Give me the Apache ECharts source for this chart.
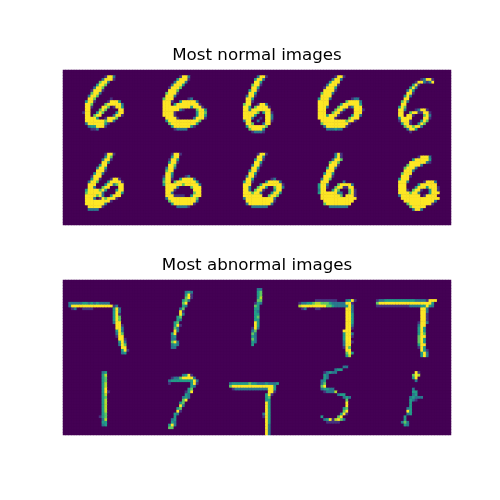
<!DOCTYPE html>
<html>
<head>
<meta charset="utf-8">
<script src="https://cdn.jsdelivr.net/npm/echarts@6/dist/echarts.min.js"></script>
<style>
  html, body { margin: 0; padding: 0; background: #ffffff; }
  #chart { width: 500px; height: 500px; }
</style>
</head>
<body>
<div id="chart"></div>
<script>
"use strict";

// panel titles
var panelTitles = ['Most normal images', 'Most abnormal images'];

// pixel intensity per character ('.' is background)
var levelValues = { '.': 0, 'a': 0.15, 'b': 0.4, 'c': 0.55, 'd': 0.75, 'e': 0.88, '#': 1 };

// viridis colour ramp
var viridis = ['#440154', '#482475', '#414487', '#355f8d', '#2a788e', '#21918c',
               '#22a884', '#44bf70', '#7ad151', '#bddf26', '#fde725'];

// 28x28 bitmaps, two rows of five images per panel
var normalImages = [
  ["", "",
   "...............a##b",
   "..............b###a",
   ".............d##b",
   "............c##d",
   "...........b##d",
   "..........a###a",
   "..........d##b",
   ".........b##d",
   ".........##d.....a",
   "........c##a....a###c",
   "........##d....d#####b",
   "........##a...##d.a##c",
   "........##...d#d....##",
   ".......a##..c#d....c##",
   "........##.d##....b##a",
   "........####c..a###d",
   "........#######d##b",
   "........b######ca",
   ".........bcc###a",
   "..........aab"],
  ["", "",
   "..............a##b",
   ".............c###a",
   "............b###b",
   "...........b###c",
   "..........a###d",
   "..........###d",
   ".........d###a",
   ".........###b",
   "........d###.....ab",
   "........###a..c#####b",
   "........###.c########a",
   "........##########c###a",
   "........######ba....d##c",
   "........####a.......c##d",
   "........####a.......c##c",
   ".........####a.....b###a",
   ".........c###########d",
   "..........d#########c",
   "...........c######ca",
   "............abbbb"],
  ["", "",
   "..............b##a",
   ".............c##b",
   ".............##c",
   "............d##a",
   "............##c",
   "...........c##a",
   "...........##c",
   "..........b##a",
   "..........##c",
   "..........##a",
   ".........d##..a##b",
   ".........##c.d####a",
   ".........##b#######",
   ".........#####d.c##a",
   ".........####c...##b",
   ".........###b..a.##b",
   ".........b##..b..##a",
   "..........##d...b##",
   "..........c######d",
   "...........d####c",
   "............abbba"],
  ["", "",
   "..............a##a",
   ".............b##b",
   "............c###",
   "...........b###a",
   "..........a###c",
   "..........####a",
   ".........d###b",
   ".........####",
   "........c###b.......abb",
   "........####......d####b",
   "........####....c######c",
   "........###b...d###ab###",
   "........###...d##b...###a",
   "........###..d##a....###",
   "........###c###a....c##b",
   "........######a....d###",
   ".........#########d##a",
   ".........d#########a",
   "..........b#######a",
   "...........bbbcbb"],
  ["", "", "",
   ".................ab##a",
   "...............a##bab#",
   "..............c#a",
   ".............c#b",
   "............b#c",
   "............##a",
   "...........c#b",
   "...........##",
   "..........d#b",
   "..........##",
   ".........c#d",
   ".........##b...ab##a",
   ".........##..d##aa##a",
   ".........##.##a...d#b",
   ".........c####....##a",
   ".........a###a...c#d",
   "..........c##a..c#d",
   "...........d##d##b",
   "............b##c",
   ".............a"],
  ["", "",
   "...............a##a",
   "...............c#d",
   "..............b##a",
   "..............##c",
   ".............c##",
   "............b##c",
   "............###a",
   "...........c##b",
   "..........a###",
   "..........c##a...a##a",
   ".........b##d...c####a",
   ".........###...c##bd##",
   ".........##b..d##...##",
   "........c####d#c...c##",
   "........d#####b....##c",
   "........####d#b..c###",
   "........###b.a#d###a",
   "........#########a",
   "........#######b",
   ".........#####a",
   ".........bbbb"],
  ["", "",
   "...........a##a",
   "...........c##",
   "..........a##c",
   "..........c##a",
   "..........##d",
   ".........b##b",
   ".........d##",
   ".........##c",
   "........a##b....ab",
   "........c##a..c####b",
   "........d##.d#######c",
   "........c######d#####b",
   ".........####b....d###",
   ".........###a......###",
   ".........##b.......d##",
   ".........###aaaa..c###",
   ".........b##########d",
   "..........d#########b",
   "...........c#######a",
   ".............bbbba"],
  ["", "",
   "..............a##a",
   "..............##b",
   ".............c##a",
   ".............##c",
   "............b##a",
   "............##c",
   "...........c##a",
   "...........##c",
   "..........b##a",
   "..........##c......ab",
   ".........c##a....c####b",
   ".........###...c#######a",
   ".........##b..d##c..d##b",
   ".........##b.d##a...c##",
   ".........###d##b...c##c",
   ".........#######..d##d",
   ".........b##########b",
   "..........##########a",
   "..........b########b",
   "............bbbbbb"],
  ["", "",
   "..............b#a",
   "..............c#a",
   ".............b##d",
   "............d##d",
   "............###a",
   "...........c##b",
   "...........###",
   "..........c##c",
   "..........###a",
   ".........b##d",
   ".........###.....b",
   "........c##b...d####b",
   "........c##a..d##aa##",
   "........b##..c#d...d#a",
   "........c######bb..d#a",
   ".........#######d.###a",
   ".........#############",
   "..........###########",
   "..........d#########",
   "............bbbbbbb"],
  ["", "", "",
   "................a###b",
   "..............c#####c",
   ".............######ba",
   "............d####b",
   "...........d###b",
   "...........###b",
   "..........d###",
   "..........###a",
   ".........c###",
   ".........###b.....a###b",
   ".........###....c######",
   ".........###...c###c###a",
   ".........###a.d##a..c##a",
   ".........####d##b...c###",
   ".........b#######.a####",
   "..........##############",
   "...........###########b",
   "............d########a",
   ".............d#####",
   "..............b##b"]
];

var abnormalImages = [
  ["", "", "", "", "", "", "", "",
   "..bbbbbccbcbcbbbb",
   "..b###############ab",
   "...ab..aaaa.......c#b",
   "..................c#b",
   "..................c#a",
   "..................c#d",
   "..................c#d",
   "..................b##",
   "...................##a",
   "...................##b",
   "...................c#b",
   "...................b#d",
   "...................a##",
   "....................##a",
   "....................c#b",
   "....................b#d",
   ".....................##",
   ".....................c#a",
   ".....................bc"],
  ["", "", "", "",
   "................bcb",
   "................c#a",
   "................d#a",
   "...............cdb",
   "...............d#",
   "...............cb",
   "..............bd",
   "..............#a",
   "..............#b",
   ".............cd",
   ".............cb",
   "............cd",
   "............c#a",
   "............db",
   "............#b",
   "...........c#",
   "...........bc",
   "...........bb",
   "...........d#b",
   "...........bcb",
   "...........bb"],
  ["", "", "",
   "..............bb",
   "..............cd",
   "..............cd",
   "..............ce",
   "..............dd",
   ".............acb",
   ".............dc",
   ".............cc",
   ".............cb",
   ".............cc",
   ".............cd",
   ".............cc",
   ".............#c",
   ".............#c",
   "............a#b",
   "............bd",
   "............db",
   "............cb",
   "............db",
   "............cb",
   "............c"],
  ["", "", "", "", "", "", "",
   ".......aaaaaaaa...bc#a",
   ".abbccdeedddcbbbbb##a",
   ".e#########ddcbbbbc#b",
   "..ab...aa.........##b",
   "..................##b",
   "..................##c",
   "..................##c",
   "..................##c",
   "..................##c",
   "..................##b",
   "..................##a",
   ".................###",
   ".................c##b",
   ".................c##a",
   ".................c##",
   ".................b##a",
   ".................b##",
   ".................a#d",
   "..................##",
   "..................d#c",
   "..................ce"],
  ["", "", "", "", "", "", "",
   ".abbcccccccccccbbbba###",
   ".d###################c",
   ".aaaaaaaaaaaabbbbcc#cb",
   ".................##b",
   ".................##b",
   ".................##a",
   ".................##a",
   ".................##a",
   "................a##b",
   "................b##",
   "................c#c",
   "................c#c",
   "................c#d",
   "................d##",
   "................d#c",
   "................d#c",
   "................c##",
   "................a#c",
   ".................#ca",
   ".................c#b",
   ".................c#b"],
  ["", "", "", "", "",
   "..............bc",
   "..............ce",
   "..............cd",
   "..............cd",
   "..............ce",
   "..............ce",
   "..............c#",
   "..............c#a",
   "..............ce",
   "..............cd",
   "..............ce",
   "..............ce",
   "..............ce",
   "..............ce",
   "..............ce",
   "..............cd",
   ".............acd",
   "..............be",
   "..............cc",
   "..............bc"],
  ["", "", "", "", "", "",
   "...............bc#a",
   "...........abbd####b",
   "..........bcccccccc#b",
   "..........a.......c#a",
   "..................cb",
   ".................cd",
   "................ac#",
   "................cb",
   "...............bcb",
   "...............d#",
   "..............cd",
   "..............#b",
   ".............cd",
   ".............#a",
   "............cb",
   "............c",
   "...........bc",
   "...........cb",
   "..........c#b",
   "..........dd"],
  ["", "", "", "", "", "", "", "", "",
   "....bccccccdccbbbcbbbc",
   "....d###############c",
   ".....abbbbbbbbbbbb##c",
   "..................##a",
   ".................c#a",
   ".................cd",
   ".................cc",
   ".................#c",
   ".................#c",
   ".................#c",
   ".................#c",
   "................b#c",
   "................a#c",
   ".................#c",
   ".................#c",
   ".................#b",
   ".................#b",
   ".................#b",
   ".................#b"],
  ["", "", "",
   ".................bb",
   "..............bcc",
   "..........abcbb",
   "..........cb",
   "..........cb",
   ".........bc",
   ".........bd",
   ".........d#",
   ".........bccbb",
   "..........abbbe",
   "...............bcc",
   ".................bcb",
   "..................d",
   "..................#",
   "..................#",
   ".................cd",
   ".................d#",
   "................c#a",
   ".........c.....d#",
   "..........bc#ae#db",
   "...........aaaaa"],
  ["", "", "", "", "",
   "...............#a",
   "..............d#e",
   "..............c#",
   "...............b",
   "",
   "",
   "..............b",
   "..............cc",
   "..............bc",
   ".............bcbbb",
   ".............cba",
   ".............c",
   ".............c",
   "............bc",
   "............#c",
   "............bc",
   "...........c",
   "...........c",
   "..........bdb",
   "...........cb"]
];

function toCells(images) {
    var cells = [];
    images.forEach(function (rows, k) {
        var bx = (k % 5) * 28;
        var by = Math.floor(k / 5) * 28;
        for (var i = 0; i < 28; i++) {
            var line = (rows[i] || '').padEnd(28, '.');
            for (var j = 0; j < 28; j++) {
                cells.push([bx + j, by + i, levelValues[line[j]] || 0]);
            }
        }
    });
    return cells;
}

var xCats = [], yCats = [];
for (var i = 0; i < 140; i++) xCats.push(i);
for (var i = 0; i < 56; i++) yCats.push(i);

var grids = [
    { left: 63, top: 70, width: 388, height: 155 },
    { left: 63, top: 280, width: 388, height: 155 }
];

var chart = echarts.init(document.getElementById('chart'));

var titleStyle = { fontFamily: 'DejaVu Sans', fontSize: 16.7, fontWeight: 'normal', color: '#000000' };

var option = {
    backgroundColor: '#ffffff',
    animation: false,
    title: [{
        text: panelTitles[0],
        left: 257, top: 47, textAlign: 'center', padding: 0,
        textStyle: titleStyle
    }, {
        text: panelTitles[1],
        left: 257, top: 257, textAlign: 'center', padding: 0,
        textStyle: titleStyle
    }],
    grid: grids.map(function (g) {
        return Object.assign({ show: true, backgroundColor: viridis[0], borderWidth: 0 }, g);
    }),
    xAxis: [0, 1].map(function (g) {
        return { type: 'category', gridIndex: g, data: xCats, show: false };
    }),
    yAxis: [0, 1].map(function (g) {
        return { type: 'category', gridIndex: g, data: yCats, inverse: true, show: false };
    }),
    visualMap: {
        show: false, min: 0, max: 1, dimension: 2,
        seriesIndex: [0, 1],
        inRange: { color: viridis }
    },
    series: [{
        type: 'heatmap', xAxisIndex: 0, yAxisIndex: 0,
        data: toCells(normalImages),
        progressive: 0,
        itemStyle: { borderWidth: 0 },
        emphasis: { disabled: true }
    }, {
        type: 'heatmap', xAxisIndex: 1, yAxisIndex: 1,
        data: toCells(abnormalImages),
        progressive: 0,
        itemStyle: { borderWidth: 0 },
        emphasis: { disabled: true }
    }]
};

chart.setOption(option);
</script>
</body>
</html>
